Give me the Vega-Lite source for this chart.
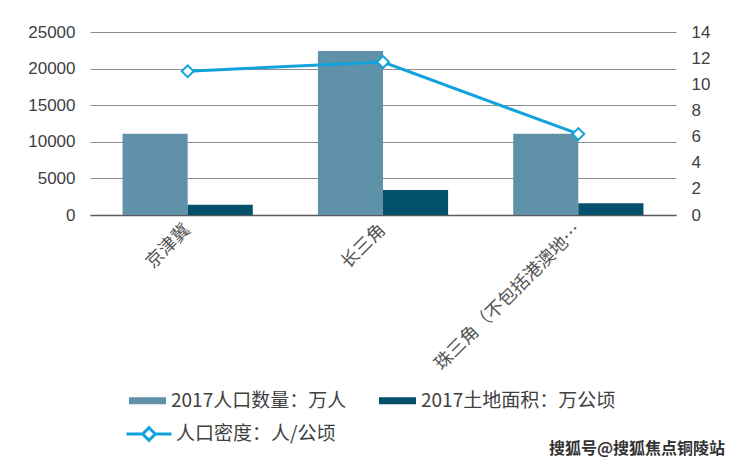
{
  "$schema": "https://vega.github.io/schema/vega-lite/v6.json",
  "width": 586,
  "height": 183,
  "autosize": {"type": "none"},
  "padding": {"left": 90, "top": 32, "right": 64, "bottom": 252},
  "background": "white",
  "config": {"view": {"stroke": null}},
  "datasets": {
    "bars": [
      {"region": "京津冀", "series": "2017人口数量：万人", "value": 11100},
      {"region": "京津冀", "series": "2017土地面积：万公顷", "value": 1400},
      {"region": "长三角", "series": "2017人口数量：万人", "value": 22400},
      {"region": "长三角", "series": "2017土地面积：万公顷", "value": 3400},
      {"region": "珠三角（不包括港澳地区）", "series": "2017人口数量：万人", "value": 11100},
      {"region": "珠三角（不包括港澳地区）", "series": "2017土地面积：万公顷", "value": 1600}
    ],
    "density": [
      {"region": "京津冀", "density": 11.0},
      {"region": "长三角", "density": 11.7},
      {"region": "珠三角（不包括港澳地区）", "density": 6.2}
    ]
  },
  "title": {
    "text": "搜狐号@搜狐焦点铜陵站",
    "orient": "bottom",
    "anchor": "end",
    "frame": "group",
    "font": "Noto Sans CJK SC",
    "fontSize": 16,
    "fontWeight": "bold",
    "color": "#333333",
    "dx": 49,
    "offset": 0,
    "dy": -6
  },
  "layer": [
    {
      "data": {"name": "bars"},
      "mark": {"type": "bar"},
      "encoding": {
        "x": {
          "field": "region",
          "type": "nominal",
          "sort": null,
          "scale": {"paddingInner": 0.3333, "paddingOuter": 0.1667},
          "axis": {
            "title": null,
            "labelAngle": -45,
            "labelAlign": "right",
            "labelBaseline": "middle",
            "labelFont": "Noto Sans CJK SC",
            "labelFontSize": 18,
            "labelColor": "#555555",
            "labelPadding": 12,
            "labelLimit": 0,
            "labelExpr": "length(datum.label) > 10 ? substring(datum.label, 0, 10) + '…' : datum.label",
            "ticks": false,
            "domain": true,
            "domainColor": "#595959",
            "domainWidth": 1.5
          }
        },
        "xOffset": {"field": "series", "sort": null},
        "y": {
          "field": "value",
          "type": "quantitative",
          "scale": {"domain": [0, 25000]},
          "axis": {
            "title": null,
            "values": [0, 5000, 10000, 15000, 20000, 25000],
            "format": "d",
            "labelFont": "Liberation Sans",
            "labelFontSize": 17,
            "labelColor": "#404040",
            "labelPadding": 15,
            "ticks": false,
            "domain": false,
            "grid": true,
            "gridColor": "#8C8C8C"
          }
        },
        "color": {
          "field": "series",
          "type": "nominal",
          "sort": null,
          "scale": {"range": ["#5F91A8", "#02506B"]},
          "legend": {
            "title": null,
            "orient": "none",
            "direction": "horizontal",
            "legendX": 39,
            "legendY": 350,
            "padding": 0,
            "symbolType": "M-1,-0.19H1V0.19H-1Z",
            "symbolSize": 1369,
            "symbolStrokeWidth": 0,
            "labelFont": "Noto Sans CJK SC",
            "labelFontSize": 19,
            "labelColor": "#404040",
            "labelOffset": 5,
            "labelLimit": 0,
            "columnPadding": 32
          }
        }
      }
    },
    {
      "data": {"name": "density"},
      "mark": {
        "type": "line",
        "strokeWidth": 3,
        "point": {"shape": "diamond", "filled": true, "fill": "white", "strokeWidth": 2, "size": 140}
      },
      "encoding": {
        "x": {"field": "region", "type": "nominal", "sort": null},
        "y": {
          "field": "density",
          "type": "quantitative",
          "scale": {"domain": [0, 14]},
          "axis": {
            "orient": "right",
            "title": null,
            "values": [0, 2, 4, 6, 8, 10, 12, 14],
            "labelFont": "Liberation Sans",
            "labelFontSize": 17,
            "labelColor": "#404040",
            "labelPadding": 15,
            "ticks": false,
            "domain": false,
            "grid": false
          }
        },
        "stroke": {
          "datum": "人口密度：人/公顷",
          "type": "nominal",
          "scale": {"range": ["#12A3DC"]},
          "legend": {
            "title": null,
            "orient": "none",
            "legendX": 35,
            "legendY": 378,
            "padding": 0,
            "symbolType": "M-1,0H-0.28M0.28,0H1M0,-0.28L0.28,0L0,0.28L-0.28,0Z",
            "symbolSize": 2025,
            "symbolStrokeWidth": 3,
            "symbolFillColor": "white",
            "labelFont": "Noto Sans CJK SC",
            "labelFontSize": 19,
            "labelColor": "#404040",
            "labelOffset": 3,
            "labelLimit": 0
          }
        }
      }
    }
  ],
  "resolve": {"scale": {"y": "independent"}}
}
